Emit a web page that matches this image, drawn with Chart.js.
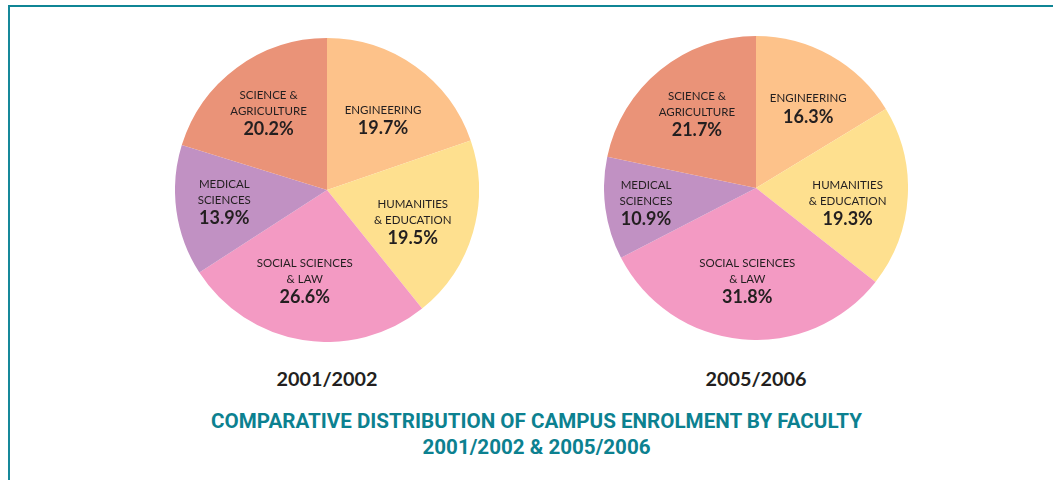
<!DOCTYPE html>
<html>
<head>
<meta charset="utf-8">
<script src="https://cdn.jsdelivr.net/npm/chart.js@4.4.1/dist/chart.umd.min.js"></script>
<style>
  html, body { margin: 0; padding: 0; background: #fff; }
  #wrap { position: relative; width: 1053px; height: 480px; overflow: hidden; background: #fff; }
  #frame { position: absolute; left: 8px; top: 5px; width: 1100px; height: 500px;
           border-left: 2px solid #16889a; border-top: 2px solid #0f8595; }
  .pie { position: absolute; width: 304px; height: 304px; }
  .year { position: absolute; top: 366px; width: 200px; text-align: center;
          font-family: Lato, "Open Sans", sans-serif; font-weight: bold; font-size: 19.8px; color: #231f20; }
  #title { position: absolute; left: 10px; width: 1053px; top: 408px; text-align: center;
           font-family: "Liberation Sans Narrow", "Roboto", sans-serif; font-weight: bold;
           font-size: 20.6px; line-height: 26px; color: #0c8190; }
</style>
</head>
<body>
<div id="wrap">
  <div id="frame"></div>
  <div class="pie" style="left:175px; top:38px;"><canvas id="c1" width="304" height="304"></canvas></div>
  <div class="pie" style="left:604px; top:36px;"><canvas id="c2" width="304" height="304"></canvas></div>
  <div class="year" style="left:227px;">2001/2002</div>
  <div class="year" style="left:656px;">2005/2006</div>
  <div id="title">COMPARATIVE DISTRIBUTION OF CAMPUS ENROLMENT BY FACULTY<br>2001/2002 &amp; 2005/2006</div>
</div>
<script>
// ---- data ----
const categories = ["ENGINEERING", "HUMANITIES\n& EDUCATION", "SOCIAL SCIENCES\n& LAW", "MEDICAL\nSCIENCES", "SCIENCE &\nAGRICULTURE"];
const values2001 = [19.7, 19.5, 26.6, 13.9, 20.2];
const values2005 = [16.3, 19.3, 31.8, 10.9, 21.7];
const sliceColors = ["#fdc28a", "#fee08f", "#f39ac3", "#c191c3", "#ea9378"];

// label placement per slice: radius fraction and angle shift (degrees) from slice middle
const labelPlace2001 = { r: [0.595, 0.60, 0.61, 0.68, 0.64], a: [2.8, 3.8, 4.7, 1.6, -0.5] };
const labelPlace2005 = { r: [0.63, 0.61, 0.61, 0.73, 0.625], a: [3.7, 5.3, 0, 0.2, 0.6] };

const sliceLabels = {
  id: 'sliceLabels',
  afterDatasetsDraw(chart, args, opts) {
    const place = opts.place;
    const ctx = chart.ctx;
    const meta = chart.getDatasetMeta(0);
    const ds = chart.data.datasets[0];
    meta.data.forEach((arc, i) => {
      const mid = (arc.startAngle + arc.endAngle) / 2 + place.a[i] * Math.PI / 180;
      const r = arc.outerRadius * place.r[i];
      const cx = arc.x + Math.cos(mid) * r;
      const cy = arc.y + Math.sin(mid) * r;
      const lines = chart.data.labels[i].split("\n");
      const pct = ds.data[i].toFixed(1) + "%";
      const lh = 16, pctGap = 18;
      const total = (lines.length - 1) * lh + pctGap;
      let y = cy - total / 2;
      ctx.save();
      ctx.textAlign = 'center';
      ctx.textBaseline = 'middle';
      ctx.fillStyle = '#231f20';
      ctx.font = '11.5px Lato, "Open Sans", sans-serif';
      lines.forEach((ln, k) => { ctx.fillText(ln, cx, y + k * lh); });
      ctx.font = 'bold 18px Lato, "Open Sans", sans-serif';
      ctx.fillText(pct, cx, y + (lines.length - 1) * lh + pctGap);
      ctx.restore();
    });
  }
};

function makePie(id, values, place) {
  return new Chart(document.getElementById(id), {
    type: 'pie',
    data: {
      labels: categories,
      datasets: [{ data: values, backgroundColor: sliceColors, borderWidth: 0 }]
    },
    options: {
      responsive: false,
      animation: false,
      layout: { padding: 0 },
      plugins: {
        legend: { display: false },
        tooltip: { enabled: false },
        sliceLabels: { place: place }
      }
    },
    plugins: [sliceLabels]
  });
}
makePie('c1', values2001, labelPlace2001);
makePie('c2', values2005, labelPlace2005);
</script>
</body>
</html>
